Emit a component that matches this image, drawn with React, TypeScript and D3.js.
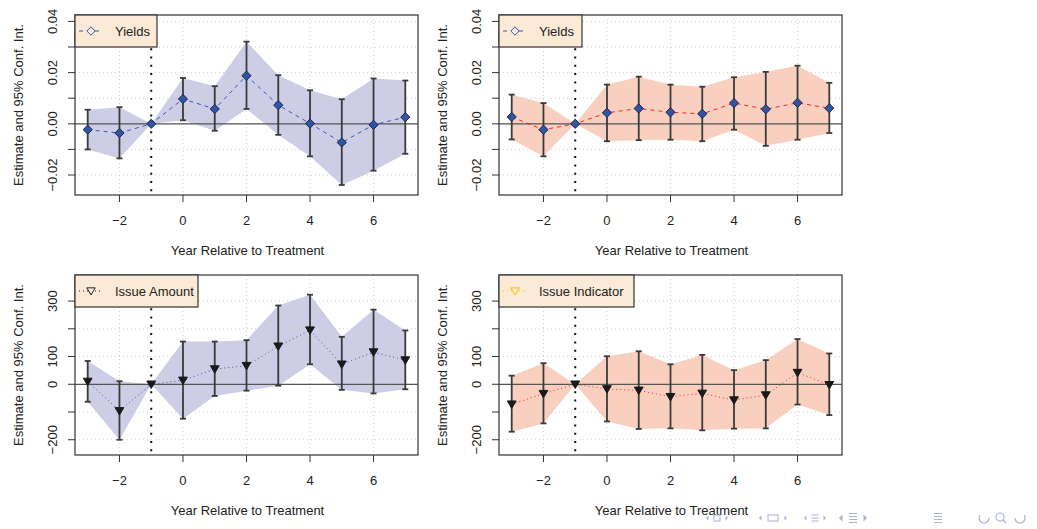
import React from "react";
import * as d3 from "d3";

const years = [-3, -2, -1, 0, 1, 2, 3, 4, 5, 6, 7];
const xTicks = [-2, 0, 2, 4, 6];
const xTickLabels = ["−2", "0", "2", "4", "6"];

const yieldTicks = [-0.02, -0.01, 0, 0.01, 0.02, 0.03, 0.04];
const yieldTickLabels = ["−0.02", "", "0.00", "", "0.02", "", "0.04"];
const amountTicks = [-200, -100, 0, 100, 200, 300];
const amountTickLabels = ["−200", "", "0", "100", "", "300"];

// Panel 1: Yields (blue band)
const yieldsAEst = [-0.0023, -0.0036, 0, 0.0097, 0.0058, 0.0188, 0.0073, 0.0001, -0.0073, -0.0004, 0.0026];
const yieldsALo = [-0.01, -0.0135, 0, 0.0014, -0.0027, 0.0058, -0.0043, -0.0127, -0.0239, -0.0183, -0.0117];
const yieldsAHi = [0.0055, 0.0065, 0, 0.0179, 0.0147, 0.0321, 0.019, 0.0131, 0.0096, 0.0177, 0.0169];

// Panel 2: Yields (salmon band)
const yieldsBEst = [0.0027, -0.0023, 0, 0.0043, 0.006, 0.0045, 0.0039, 0.0081, 0.0057, 0.0082, 0.0061];
const yieldsBLo = [-0.0061, -0.0127, 0, -0.0068, -0.0064, -0.0062, -0.0068, -0.0023, -0.0086, -0.0062, -0.0036];
const yieldsBHi = [0.0114, 0.0081, 0, 0.0153, 0.0184, 0.0153, 0.0145, 0.0182, 0.0203, 0.0227, 0.016];

// Panel 3: Issue Amount
const amountEst = [10, -96, 0, 14, 55, 67, 137, 195, 72, 116, 87];
const amountLo = [-63, -200, 0, -124, -42, -23, -5, 72, -20, -33, -18];
const amountHi = [84, 11, 0, 154, 154, 159, 284, 323, 171, 269, 194];

// Panel 4: Issue Indicator
const indicatorEst = [-72, -34, 0, -17, -22, -45, -33, -57, -39, 42, -2];
const indicatorLo = [-171, -141, 0, -134, -161, -159, -166, -160, -159, -73, -111];
const indicatorHi = [31, 76, 0, 101, 119, 72, 106, 51, 87, 163, 111];

const FONT = "'Liberation Sans', Arial, Helvetica, sans-serif";

type PanelProps = {
  left: number;
  top: number;
  width: number;
  height: number;
  yDomain: [number, number];
  yTicks: number[];
  yTickLabels: string[];
  est: number[];
  lo: number[];
  hi: number[];
  bandColor: string;
  lineColor: string;
  lineDash: string;
  marker: "diamond" | "triangle";
  legendText: string;
  legendWidth: number;
  legendLineColor: string;
  legendLineDash: string;
  legendMarkerColor: string;
};

function Panel(p: PanelProps) {
  const x = d3.scaleLinear().domain([-3.4, 7.4]).range([p.left, p.left + p.width]);
  const y = d3.scaleLinear().domain(p.yDomain).range([p.top + p.height, p.top]);
  const bottom = p.top + p.height;
  const right = p.left + p.width;

  const area = d3
    .area<number>()
    .x((_, i) => x(years[i]))
    .y0((_, i) => y(p.lo[i]))
    .y1((_, i) => y(p.hi[i]));
  const line = d3
    .line<number>()
    .x((_, i) => x(years[i]))
    .y((d) => y(d));

  const clipId = `clip-${p.left}-${p.top}`;

  const diamond = (cx: number, cy: number, r: number, fill: string, stroke: string, key?: any) => (
    <path
      key={key}
      d={`M${cx},${cy - r}L${cx + r},${cy}L${cx},${cy + r}L${cx - r},${cy}Z`}
      fill={fill}
      stroke={stroke}
      strokeWidth={1}
    />
  );
  const triangle = (cx: number, cy: number, r: number, fill: string, stroke: string, key?: any) => (
    <path
      key={key}
      d={`M${cx - r},${cy - r * 0.75}L${cx + r},${cy - r * 0.75}L${cx},${cy + r * 0.95}Z`}
      fill={fill}
      stroke={stroke}
      strokeWidth={1}
    />
  );

  const legY = p.top + 16;
  return (
    <g>
      <defs>
        <clipPath id={clipId}>
          <rect x={p.left} y={p.top} width={p.width} height={p.height} />
        </clipPath>
      </defs>
      <g clipPath={`url(#${clipId})`}>
        <path d={area(years) || ""} fill={p.bandColor} stroke="none" />
        {xTicks.map((t) => (
          <line key={"gx" + t} x1={x(t)} x2={x(t)} y1={p.top} y2={bottom} stroke="#cfcfcf" strokeWidth={1} strokeDasharray="1 3" />
        ))}
        {p.yTicks.map((t) => (
          <line key={"gy" + t} x1={p.left} x2={right} y1={y(t)} y2={y(t)} stroke="#cfcfcf" strokeWidth={1} strokeDasharray="1 3" />
        ))}
        <line x1={p.left} x2={right} y1={y(0)} y2={y(0)} stroke="#555" strokeWidth={1.3} />
        <line x1={x(-1)} x2={x(-1)} y1={p.top} y2={bottom} stroke="#111" strokeWidth={2} strokeDasharray="2 6.3" />
        <path d={line(p.est) || ""} fill="none" stroke={p.lineColor} strokeWidth={1} strokeDasharray={p.lineDash} />
        {years.map((yr, i) => (
          <g key={"eb" + yr} stroke="#3a3a3a" strokeWidth={1.8}>
            <line x1={x(yr)} x2={x(yr)} y1={y(p.lo[i])} y2={y(p.hi[i])} />
            <line x1={x(yr) - 3} x2={x(yr) + 3} y1={y(p.lo[i])} y2={y(p.lo[i])} />
            <line x1={x(yr) - 3} x2={x(yr) + 3} y1={y(p.hi[i])} y2={y(p.hi[i])} />
          </g>
        ))}
        {years.map((yr, i) =>
          p.marker === "diamond"
            ? diamond(x(yr), y(p.est[i]), 4.6, "#2f55a4", "#1b2747", "pt" + yr)
            : triangle(x(yr), y(p.est[i]), 4.4, "#1a1a1a", "#1a1a1a", "pt" + yr)
        )}
      </g>
      {/* box */}
      <rect x={p.left} y={p.top} width={p.width} height={p.height} fill="none" stroke="#333" strokeWidth={1.2} />
      {/* x axis */}
      {xTicks.map((t, i) => (
        <g key={"xt" + t}>
          <line x1={x(t)} x2={x(t)} y1={bottom} y2={bottom + 7} stroke="#333" strokeWidth={1} />
          <text x={x(t)} y={bottom + 30} textAnchor="middle" fontSize={13} fontFamily={FONT} fill="#222">
            {xTickLabels[i]}
          </text>
        </g>
      ))}
      <text x={(p.left + right) / 2 + 1} y={bottom + 60} textAnchor="middle" fontSize={13} fontFamily={FONT} fill="#222">
        Year Relative to Treatment
      </text>
      {/* y axis */}
      {p.yTicks.map((t, i) => (
        <g key={"yt" + t}>
          <line x1={p.left - 7} x2={p.left} y1={y(t)} y2={y(t)} stroke="#333" strokeWidth={1} />
          {p.yTickLabels[i] ? (
            <text
              transform={`translate(${p.left - 18},${y(t)}) rotate(-90)`}
              textAnchor="middle"
              fontSize={13}
              fontFamily={FONT}
              fill="#222"
            >
              {p.yTickLabels[i]}
            </text>
          ) : null}
        </g>
      ))}
      <text
        transform={`translate(${p.left - 52},${(p.top + bottom) / 2}) rotate(-90)`}
        textAnchor="middle"
        fontSize={13}
        fontFamily={FONT}
        fill="#222"
      >
        Estimate and 95% Conf. Int.
      </text>
      {/* legend */}
      <rect x={p.left} y={p.top} width={p.legendWidth} height={32} fill="#faead6" stroke="#333" strokeWidth={1.2} />
      <line
        x1={p.left + 4}
        x2={p.left + 28}
        y1={legY}
        y2={legY}
        stroke={p.legendLineColor}
        strokeWidth={1}
        strokeDasharray={p.legendLineDash}
      />
      {p.marker === "diamond"
        ? diamond(p.left + 16, legY, 4.2, "#faead6", p.legendMarkerColor)
        : triangle(p.left + 16, legY, 4.2, "#faead6", p.legendMarkerColor)}
      <text x={p.left + 40} y={legY + 4.5} fontSize={13} fontFamily={FONT} fill="#222">
        {p.legendText}
      </text>
    </g>
  );
}

// Beamer navigation symbols (drawn as small shapes)
const NAV = "#aab0d8";
function NavArrows({ cx, cy, gap, s }: { cx: number; cy: number; gap: number; s: number }) {
  return (
    <g fill={NAV}>
      <path d={`M${cx - gap},${cy}L${cx - gap + s},${cy - s}L${cx - gap + s},${cy + s}Z`} />
      <path d={`M${cx + gap},${cy}L${cx + gap - s},${cy - s}L${cx + gap - s},${cy + s}Z`} />
    </g>
  );
}
function Lines({ cx, cy, w, n }: { cx: number; cy: number; w: number; n: number }) {
  return (
    <g stroke={NAV} strokeWidth={1}>
      {d3.range(n).map((i) => (
        <line key={i} x1={cx - w / 2} x2={cx + w / 2} y1={cy - (n - 1) * 1.5 + i * 3} y2={cy - (n - 1) * 1.5 + i * 3} />
      ))}
    </g>
  );
}
function NavBar() {
  const cy = 518;
  return (
    <g>
      <NavArrows cx={717} cy={cy} gap={11} s={2.5} />
      <rect x={714} y={cy - 3} width={6} height={6} fill="none" stroke={NAV} strokeWidth={1} />
      <NavArrows cx={773} cy={cy} gap={14} s={2.5} />
      <rect x={768} y={cy - 3} width={10} height={6} fill="none" stroke={NAV} strokeWidth={1} />
      <NavArrows cx={815} cy={cy} gap={11} s={2.5} />
      <Lines cx={815} cy={cy} w={7} n={3} />
      <NavArrows cx={853} cy={cy} gap={14} s={3.5} />
      <Lines cx={853} cy={cy} w={8} n={4} />
      <Lines cx={938} cy={cy} w={8} n={4} />
      <g fill="none" stroke={NAV} strokeWidth={1.2}>
        <path d="M980,515 A5,5 0 1 0 989,518" />
        <circle cx={1000} cy={517} r={4} />
        <line x1={1003} y1={520} x2={1006} y2={523} />
        <path d="M1024,515 A5,5 0 1 1 1015,518" />
      </g>
    </g>
  );
}

export default function App() {
  React.useEffect(() => {
    document.body.style.margin = "0";
  }, []);
  const yDomTop: [number, number] = [-0.0278, 0.0425];
  const yDomBot: [number, number] = [-255, 394];
  return (
    <svg width={1037} height={529} style={{ position: "absolute", left: 0, top: 0, background: "#fff" }}>
      <rect x={0} y={0} width={1037} height={529} fill="#fff" />
      <Panel
        left={75}
        top={15}
        width={343}
        height={180}
        yDomain={yDomTop}
        yTicks={yieldTicks}
        yTickLabels={yieldTickLabels}
        est={yieldsAEst}
        lo={yieldsALo}
        hi={yieldsAHi}
        bandColor="#cdcde5"
        lineColor="#3656b8"
        lineDash="4 4"
        marker="diamond"
        legendText="Yields"
        legendWidth={82}
        legendLineColor="#3656b8"
        legendLineDash="4 4"
        legendMarkerColor="#3656b8"
      />
      <Panel
        left={499}
        top={15}
        width={343}
        height={180}
        yDomain={yDomTop}
        yTicks={yieldTicks}
        yTickLabels={yieldTickLabels}
        est={yieldsBEst}
        lo={yieldsBLo}
        hi={yieldsBHi}
        bandColor="#f9d0c0"
        lineColor="#ff2020"
        lineDash="4 4"
        marker="diamond"
        legendText="Yields"
        legendWidth={83}
        legendLineColor="#3656b8"
        legendLineDash="4 4"
        legendMarkerColor="#3656b8"
      />
      <Panel
        left={75}
        top={275}
        width={343}
        height={180}
        yDomain={yDomBot}
        yTicks={amountTicks}
        yTickLabels={amountTickLabels}
        est={amountEst}
        lo={amountLo}
        hi={amountHi}
        bandColor="#cdcde5"
        lineColor="#3656b8"
        lineDash="1 3"
        marker="triangle"
        legendText="Issue Amount"
        legendWidth={123}
        legendLineColor="#222"
        legendLineDash="1 3"
        legendMarkerColor="#222"
      />
      <Panel
        left={499}
        top={275}
        width={343}
        height={180}
        yDomain={yDomBot}
        yTicks={amountTicks}
        yTickLabels={amountTickLabels}
        est={indicatorEst}
        lo={indicatorLo}
        hi={indicatorHi}
        bandColor="#f9d0c0"
        lineColor="#ff2020"
        lineDash="1 3"
        marker="triangle"
        legendText="Issue Indicator"
        legendWidth={135}
        legendLineColor="#f2c200"
        legendLineDash="1 3"
        legendMarkerColor="#f2c200"
      />
      <NavBar />
    </svg>
  );
}
